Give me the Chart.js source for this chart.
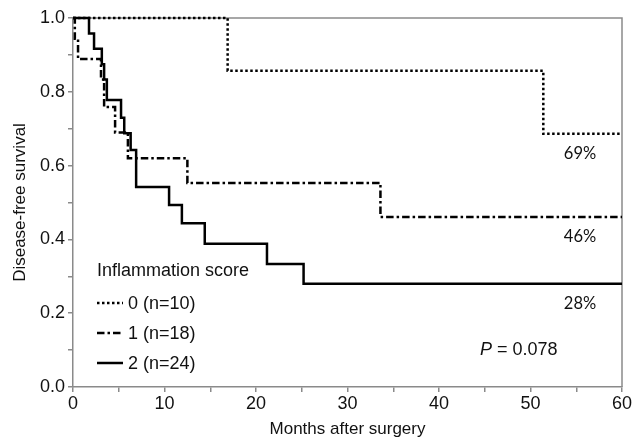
<!DOCTYPE html>
<html>
<head>
<meta charset="utf-8">
<script src="https://cdn.jsdelivr.net/npm/chart.js@4.4.1/dist/chart.umd.min.js"></script>
<style>
  html, body { margin: 0; padding: 0; background: #fff; }
  #wrap { width: 642px; height: 439px; position: relative; }
</style>
</head>
<body>
<div id="wrap"><canvas id="kmChart"></canvas></div>
<script>
// Kaplan-Meier curves (months, survival)
const group0Months = [0, 16.9, 51.4, 60];
const group0Surv = [1.0, 0.857, 0.686, 0.686];

const group1Months = [0, 0.2, 0.55, 3.06, 3.4, 4.6, 6.0, 12.5, 33.6, 60];
const group1Surv = [1.0, 0.944, 0.889, 0.833, 0.759, 0.69, 0.62, 0.553, 0.461, 0.461];

const group2Months = [0, 1.75, 2.3, 3.15, 3.4, 3.7, 5.25, 5.6, 6.3, 6.9, 10.5, 11.9, 14.4, 21.2, 25.2, 60];
const group2Surv = [1.0, 0.958, 0.917, 0.875, 0.833, 0.778, 0.73, 0.688, 0.642, 0.542, 0.493, 0.444, 0.388, 0.333, 0.28, 0.28];

const legendLabels = ['0 (n=10)', '1 (n=18)', '2 (n=24)'];
const endLabels = ['69%', '46%', '28%'];
const legendTitle = 'Inflammation score';
const pText = '= 0.078';

const AXIS_GREY = '#8a8a8a';
const FONT = '"Liberation Sans", Arial, Helvetica, sans-serif';

function toPoints(xs, ys) {
    return xs.map((x, i) => ({x: x, y: ys[i]}));
}

// box, legend and annotations
const extras = {
    id: 'extras',
    beforeDatasetsDraw(chart) {
        const ctx = chart.ctx;
        const a = chart.chartArea;
        ctx.save();
        ctx.strokeStyle = AXIS_GREY;
        ctx.lineWidth = 1.5;
        ctx.beginPath();
        ctx.moveTo(a.left, a.top);
        ctx.lineTo(a.right, a.top);
        ctx.lineTo(a.right, a.bottom);
        ctx.stroke();
        ctx.restore();
    },
    afterDatasetsDraw(chart) {
        const ctx = chart.ctx;
        const a = chart.chartArea;
        const ys = chart.scales.y;
        ctx.save();

        // end percentages under each curve
        ctx.fillStyle = '#111';
        ctx.font = '16.5px Lato, "Open Sans", sans-serif';
        ctx.textAlign = 'center';
        ctx.textBaseline = 'middle';
        chart.data.datasets.forEach((ds, i) => {
            const last = ds.data[ds.data.length - 1];
            ctx.fillText(endLabels[i], a.right - 42, ys.getPixelForValue(last.y) + 20);
        });

        // legend
        ctx.textAlign = 'left';
        ctx.font = '18px ' + FONT;
        ctx.fillText(legendTitle, 97, 271);
        chart.data.datasets.forEach((ds, i) => {
            const y = 303 + i * 30;
            ctx.strokeStyle = ds.borderColor;
            ctx.lineWidth = ds.borderWidth;
            ctx.setLineDash(ds.borderDash || []);
            ctx.beginPath();
            ctx.moveTo(97, y);
            ctx.lineTo(123, y);
            ctx.stroke();
            ctx.setLineDash([]);
            ctx.fillText(legendLabels[i], 128, y + 1);
        });

        // p value
        ctx.font = 'italic 18px ' + FONT;
        ctx.fillText('P', 480, 350);
        const pw = ctx.measureText('P ').width;
        ctx.font = '18px ' + FONT;
        ctx.fillText(pText, 480 + pw, 350);

        ctx.restore();
    }
};

const ctx = document.getElementById('kmChart').getContext('2d');
const kmChart = new Chart(ctx, {
    type: 'line',
    data: {
        datasets: [{
            label: legendLabels[0],
            data: toPoints(group0Months, group0Surv),
            borderColor: '#000',
            borderWidth: 2.5,
            borderDash: [2.5, 2.5],
            stepped: true,
            pointRadius: 0,
            fill: false,
            clip: false
        }, {
            label: legendLabels[1],
            data: toPoints(group1Months, group1Surv),
            borderColor: '#000',
            borderWidth: 2.5,
            borderDash: [7.5, 3, 2.5, 3],
            stepped: true,
            pointRadius: 0,
            fill: false,
            clip: false
        }, {
            label: legendLabels[2],
            data: toPoints(group2Months, group2Surv),
            borderColor: '#000',
            borderWidth: 2.5,
            stepped: true,
            pointRadius: 0,
            fill: false,
            clip: false
        }]
    },
    options: {
        responsive: true,
        maintainAspectRatio: false,
        animation: false,
        layout: {padding: {left: 0, top: 18, right: 20, bottom: 0}},
        plugins: {
            legend: {display: false},
            tooltip: {enabled: false}
        },
        scales: {
            x: {
                type: 'linear',
                min: 0,
                max: 60,
                afterFit: (scale) => { scale.height = 52; },
                border: {color: AXIS_GREY, width: 1.5},
                grid: {drawOnChartArea: false, color: AXIS_GREY, lineWidth: 1.5, tickLength: 5},
                ticks: {
                    stepSize: 5,
                    color: '#111',
                    padding: 1,
                    maxRotation: 0,
                    autoSkip: false,
                    font: {family: FONT, size: 18},
                    callback: (v) => (Math.round(v) % 10 === 0 ? String(Math.round(v)) : '')
                },
                title: {
                    display: true,
                    text: 'Months after surgery',
                    color: '#111',
                    font: {family: FONT, size: 17},
                    padding: {top: 0, bottom: -1}
                }
            },
            y: {
                min: 0,
                max: 1,
                afterFit: (scale) => { scale.width = 73; },
                border: {color: AXIS_GREY, width: 1.5},
                grid: {drawOnChartArea: false, color: AXIS_GREY, lineWidth: 1.5, tickLength: 5},
                ticks: {
                    stepSize: 0.1,
                    color: '#111',
                    padding: 3,
                    autoSkip: false,
                    font: {family: FONT, size: 18},
                    callback: (v) => (Math.round(v * 10) % 2 === 0 ? v.toFixed(1) : '')
                },
                title: {
                    display: true,
                    text: 'Disease-free survival',
                    color: '#111',
                    font: {family: FONT, size: 17},
                    padding: {top: 10, bottom: 0}
                }
            }
        }
    },
    plugins: [extras]
});
</script>
</body>
</html>
